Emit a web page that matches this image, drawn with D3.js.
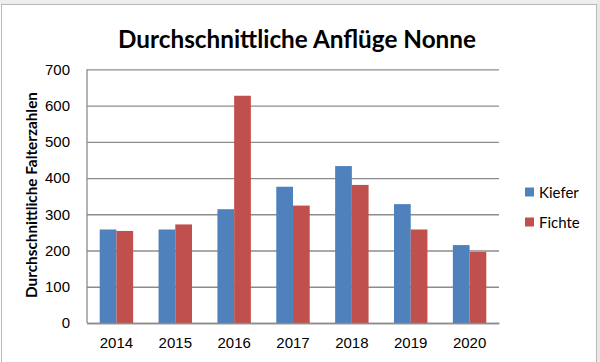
<!DOCTYPE html>
<html><head><meta charset="utf-8">
<script src="https://cdn.jsdelivr.net/npm/d3@7"></script>
<style>body{margin:0;background:#fff;}svg{display:block;font-family:Lato,"Open Sans",sans-serif;}</style>
</head><body>
<svg id="c" width="600" height="362"></svg>
<script>
const years = ["2014","2015","2016","2017","2018","2019","2020"];
const seriesNames = ["Kiefer","Fichte"];
const kiefer = [258, 258, 314, 376, 433, 328, 215];
const fichte = [254, 272, 627, 324, 381, 258, 196];
const yTicks = [0,100,200,300,400,500,600,700];
const colors = ["#4F81BD","#C0504D"];
const title = "Durchschnittliche Anflüge Nonne";
const yTitle = "Durchschnittliche Falterzahlen";

const svg = d3.select("#c");
svg.append("rect").attr("x",0).attr("y",0).attr("width",600).attr("height",5).attr("fill","#eeeeee");
svg.append("rect").attr("x",1.5).attr("y",4.5).attr("width",595).attr("height",362).attr("fill","#fff").attr("stroke","#b8b8b8");
svg.append("rect").attr("x",597).attr("y",0).attr("width",3).attr("height",362).attr("fill","#e8e8e8");

const m = {l:87, r:499, t:69.3, b:323};
const x0 = d3.scaleBand().domain(years).range([m.l,m.r]).paddingInner(0).paddingOuter(0);
const x1 = d3.scaleBand().domain(seriesNames).range([0,x0.bandwidth()]).paddingInner(0).paddingOuter(0.76);
const y = d3.scaleLinear().domain([0,700]).range([m.b,m.t]);

const yAxis = d3.axisLeft(y).tickValues(yTicks).tickSize(-(m.r-m.l)).tickPadding(17);
const ga = svg.append("g").attr("transform",`translate(${m.l},0)`).call(yAxis);
ga.select(".domain").remove();
ga.selectAll(".tick line").attr("stroke","#8c8c8c").attr("stroke-width",1.3);
ga.selectAll(".tick text").attr("font-size",15).attr("fill","#000");
svg.append("line").attr("x1",m.l).attr("x2",m.l).attr("y1",m.t).attr("y2",m.b).attr("stroke","#8c8c8c").attr("stroke-width",1.3);

const data = years.map((yr,i)=>({yr, vals:[kiefer[i],fichte[i]]}));
const g = svg.append("g");
const grp = g.selectAll("g").data(data).join("g").attr("transform",d=>`translate(${x0(d.yr)},0)`);
grp.selectAll("rect").data(d=>d.vals.map((v,j)=>({v,s:seriesNames[j],j})))
  .join("rect")
  .attr("x",d=>x1(d.s)).attr("width",x1.bandwidth())
  .attr("y",d=>y(d.v)).attr("height",d=>y(0)-y(d.v))
  .attr("fill",d=>colors[d.j]);

const xAxis = d3.axisBottom(x0).tickSize(0).tickPadding(14);
const gx = svg.append("g").attr("transform",`translate(0,${m.b})`).call(xAxis);
gx.select(".domain").attr("stroke","#8c8c8c").attr("stroke-width",1.3);
gx.selectAll(".tick text").attr("font-size",15).attr("fill","#000");

svg.append("text").attr("x",297).attr("y",48).attr("text-anchor","middle")
  .attr("font-size",24.3).attr("font-weight","bold").attr("fill","#000").text(title);
svg.append("text").attr("transform","translate(37,195) rotate(-90)").attr("text-anchor","middle")
  .attr("font-size",15.3).attr("font-weight","bold").attr("fill","#000").text(yTitle);

const lg = svg.append("g").selectAll("g").data(seriesNames).join("g")
  .attr("transform",(d,i)=>`translate(525,${192+i*30})`);
lg.append("rect").attr("x",0).attr("y",-4.5).attr("width",9).attr("height",9).attr("fill",(d,i)=>colors[i]);
lg.append("text").attr("x",14).attr("y",5.5).attr("font-size",15).attr("fill","#000").text(d=>d);
</script>
</body></html>
